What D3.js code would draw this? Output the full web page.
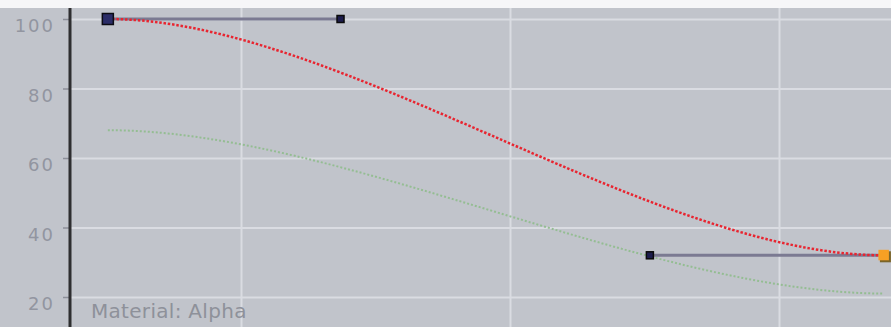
<!DOCTYPE html>
<html lang="en">
<head>
<meta charset="utf-8">
<title>Material: Alpha</title>
<script type="text/javascript" src="https://cdn.jsdelivr.net/npm/d3@7"></script>
<style>
  body { margin: 0; background: #fff; }
  svg { display: block; }
</style>
</head>
<body>
<div id="bod"></div>
<script type="text/javascript">
// curve editor values (time in frames, value in %)
let yTicks = [20, 40, 60, 80, 100]
let xGrid = [10, 20, 30]
let label = "Material: Alpha"

// red curve: two keys + bezier handles
let redKeys = [5.05, 33.9]
let redValues = [100, 32]
let redHandles = [13.7, 25.2]

// green curve: same timing, no handles shown
let greenKeys = [5.05, 33.9]
let greenValues = [68, 21]
let greenHandles = [13.7, 25.2]

let w = 891
let h = 327
let topBand = 8
let axisX = 70

let svg = d3.select("#bod")
            .append("svg")
            .attr("width", w)
            .attr("height", h);

svg.append("rect").attr("width", w).attr("height", topBand).attr("fill", "#f6f6f8");
svg.append("rect").attr("y", topBand).attr("width", w).attr("height", h - topBand).attr("fill", "#c1c4cb");

let x = d3.scaleLinear().domain([10, 30]).range([241, 779]);
let y = d3.scaleLinear().domain([20, 100]).range([297, 19]);

// vertical grid
svg.append("g")
    .attr("transform", "translate(0," + h + ")")
    .call(d3.axisBottom(x).tickValues(xGrid).tickSize(-(h - topBand)).tickFormat(""))
    .call(g => g.select(".domain").remove())
    .call(g => g.selectAll("line").attr("stroke", "#dadce2").attr("stroke-width", 2));

// horizontal grid
svg.append("g")
    .attr("transform", "translate(" + axisX + ",0)")
    .call(d3.axisLeft(y).tickValues(yTicks).tickSize(-(w - axisX)).tickFormat(""))
    .call(g => g.select(".domain").remove())
    .call(g => g.selectAll("line").attr("stroke", "#dadce2").attr("stroke-width", 2));

// y axis with labels
let yAxis = svg.append("g")
    .attr("transform", "translate(" + axisX + ",0)")
    .call(d3.axisLeft(y).tickValues(yTicks).tickSize(7).tickPadding(8));
yAxis.select(".domain").remove();
yAxis.selectAll(".tick line").attr("stroke", "#8c8f98").attr("stroke-width", 1.5);
yAxis.selectAll(".tick text")
    .attr("dy", "0.7em")
    .attr("fill", "#9295a0")
    .attr("font-family", "DejaVu Sans")
    .attr("font-size", 18)
    .attr("letter-spacing", 2);

svg.append("line")
    .attr("x1", axisX).attr("x2", axisX)
    .attr("y1", topBand).attr("y2", h)
    .attr("stroke", "#2e2e30").attr("stroke-width", 3);

function curvePath(keys, values, handles) {
  let p = d3.path();
  p.moveTo(x(keys[0]), y(values[0]));
  p.bezierCurveTo(x(handles[0]), y(values[0]), x(handles[1]), y(values[1]), x(keys[1]), y(values[1]));
  return p.toString();
}

// handle lines of the red curve
svg.append("line")
    .attr("x1", x(redKeys[0])).attr("x2", x(redHandles[0]))
    .attr("y1", y(redValues[0])).attr("y2", y(redValues[0]))
    .attr("stroke", "#7b7a92").attr("stroke-width", 3);
svg.append("line")
    .attr("x1", x(redHandles[1])).attr("x2", x(redKeys[1]))
    .attr("y1", y(redValues[1])).attr("y2", y(redValues[1]))
    .attr("stroke", "#7b7a92").attr("stroke-width", 3);

svg.append("path")
    .attr("d", curvePath(greenKeys, greenValues, greenHandles))
    .attr("fill", "none")
    .attr("stroke", "#94bd92")
    .attr("stroke-width", 2)
    .attr("stroke-dasharray", "2 2");

svg.append("path")
    .attr("d", curvePath(redKeys, redValues, redHandles))
    .attr("fill", "none")
    .attr("stroke", "#e82530")
    .attr("stroke-width", 2.5)
    .attr("stroke-dasharray", "2.5 1.8");

// handle points
[0, 1].forEach(function(i) {
  svg.append("rect")
      .attr("x", x(redHandles[i]) - 3.5).attr("y", y(redValues[i]) - 3.5)
      .attr("width", 7).attr("height", 7)
      .attr("fill", "#1c1c4c").attr("stroke", "#0a0a0a").attr("stroke-width", 1.5);
});

// start key
svg.append("rect")
    .attr("x", x(redKeys[0]) - 5.5).attr("y", y(redValues[0]) - 5.5)
    .attr("width", 11).attr("height", 11)
    .attr("fill", "#2b2d68").attr("stroke", "#0c0c14").attr("stroke-width", 1.5);

// end key (selected)
svg.append("rect")
    .attr("x", x(redKeys[1]) - 4).attr("y", y(redValues[1]) - 4)
    .attr("width", 11).attr("height", 11)
    .attr("fill", "#7a6428");
svg.append("rect")
    .attr("x", x(redKeys[1]) - 5.5).attr("y", y(redValues[1]) - 5.5)
    .attr("width", 10.5).attr("height", 10.5)
    .attr("fill", "#f7a024");

svg.append("text")
    .attr("x", 91).attr("y", 318)
    .attr("fill", "#8e919a")
    .attr("font-family", "DejaVu Sans")
    .attr("font-size", 20)
    .attr("letter-spacing", 0.3)
    .text(label);
</script>
</body>
</html>
